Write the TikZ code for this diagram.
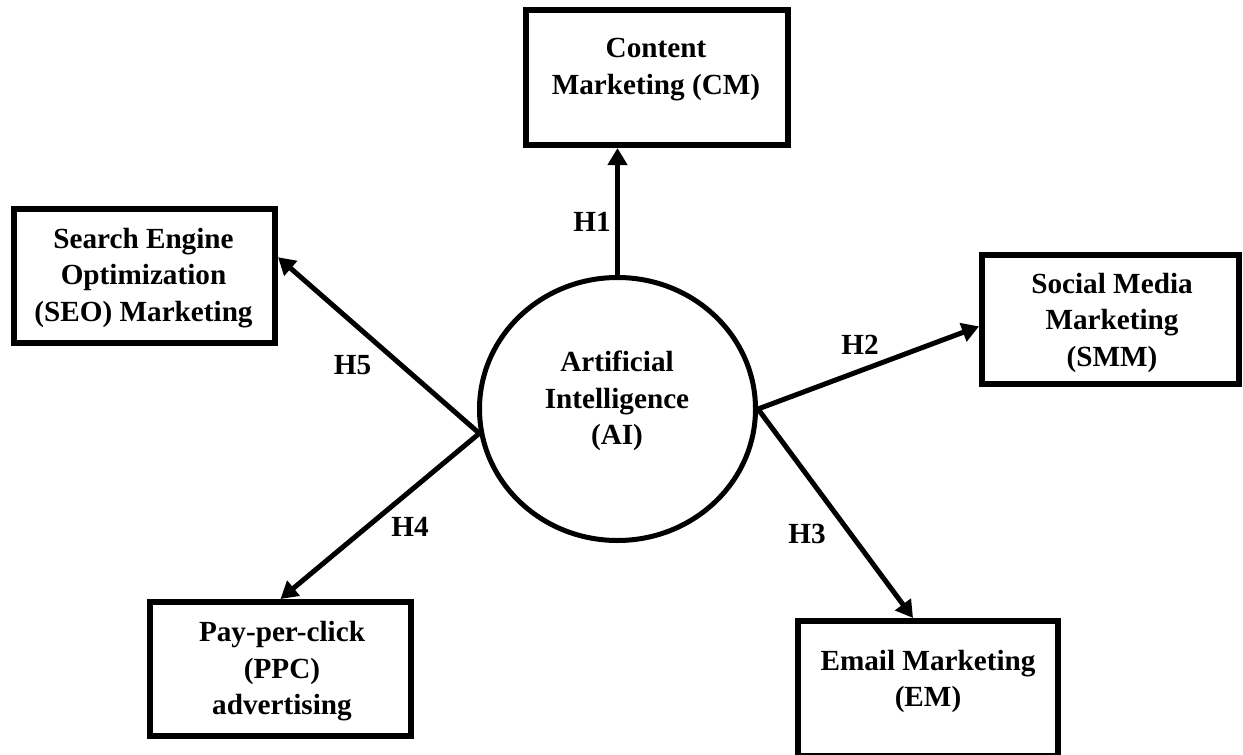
\documentclass[tikz,border=0pt]{standalone}
\usepackage{fontspec}
\setmainfont{Liberation Serif}
\usetikzlibrary{arrows.meta,shapes.geometric}
\begin{document}
\begin{tikzpicture}[x=1pt,y=-1pt,
  box/.style={draw,rectangle,line width=6pt,inner sep=0pt},
  core/.style={draw,ellipse,line width=5pt,inner sep=0pt,minimum width=276pt,minimum height=263pt},
  txt/.style={align=center,inner sep=0pt,font=\fontsize{29.2}{36.5}\selectfont\bfseries},
  lab/.style={inner sep=0pt,font=\fontsize{29.2}{36.5}\selectfont\bfseries},
  conn/.style={line width=5pt,-{Triangle[length=17pt,width=19pt]}}]
\useasboundingbox (0,0) rectangle (1243,755);

% shapes
\node[core] (ai) at (617.5,409) {};
\node[box,minimum width=262pt,minimum height=135pt] (cm)  at (657,77.5) {};
\node[box,minimum width=261pt,minimum height=134pt] (seo) at (144.5,276) {};
\node[box,minimum width=257pt,minimum height=129pt] (smm) at (1110.5,319.5) {};
\node[box,minimum width=261pt,minimum height=134pt] (ppc) at (280.5,669) {};
\node[box,minimum width=260pt,minimum height=135pt] (em)  at (928,688.5) {};

% texts
\node[txt] (aiT)  at (617,401)    {Artificial\\Intelligence\\(AI)};
\node[txt] (cmT)  at (656,69.6)   {Content\\Marketing (CM)};
\node[txt] (seoT) at (143.5,277.9) {Search Engine\\Optimization\\(SEO) Marketing};
\node[txt] (smmT) at (1112,322.9) {Social Media\\Marketing\\(SMM)};
\node[txt] (ppcT) at (282,671.3)  {Pay-per-click\\(PPC)\\advertising};
\node[txt] (emT)  at (928,681.4)  {Email Marketing\\(EM)};

% connectors
\draw[conn] (ai.north) -- (ai.north |- cm.south);
\draw[conn] (ai.east) -- (smm.183);
\draw[conn] (ai.east) -- (em.102);
\draw[conn] (ai.190) -- (ppc.north);
\draw[conn] (ai.190) -- (seo.8);

% hypothesis labels
\node[lab] (h1) at (592,222)   {H1};
\node[lab] (h2) at (860,344.5) {H2};
\node[lab] (h3) at (807,534)   {H3};
\node[lab] (h4) at (410,527)   {H4};
\node[lab] (h5) at (352.5,365.5) {H5};
\end{tikzpicture}
\end{document}
